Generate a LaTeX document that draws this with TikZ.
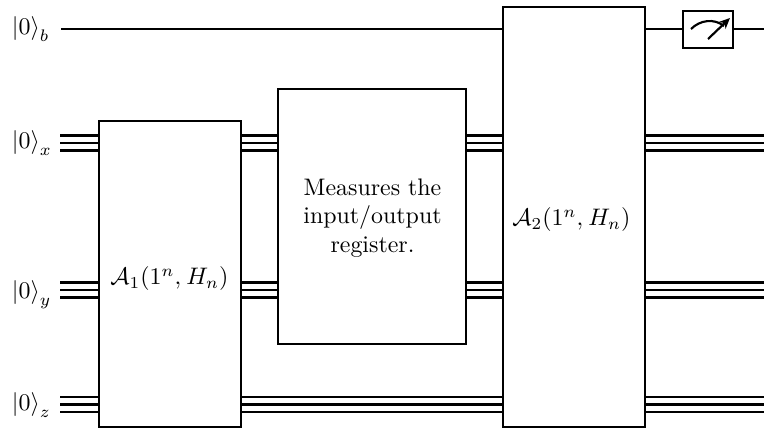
\documentclass[tikz,border=0pt]{standalone}
\usetikzlibrary{arrows.meta}
\begin{document}
\begin{tikzpicture}[x=0.4184pt,y=-0.4184pt,
  wire/.style={line width=0.9pt,black},
  gatebox/.style={draw,line width=0.9pt,fill=white,inner sep=0pt,align=center,anchor=north west},
  lab/.style={inner sep=0pt,anchor=base west}]
\useasboundingbox (0,0) rectangle (764,427);
% wire ends
\foreach \n/\y in {xa/135.5,xb/143,xc/150.5,ya/282.5,yb/290,yc/297.5,za/397,zb/404.5,zc/412}{
  \coordinate (L\n) at (60,\y);
  \coordinate (R\n) at (764,\y);
}
\coordinate (Lb) at (61,29);
\coordinate (Rb) at (764,29);
\foreach \n in {xa,xb,xc,ya,yb,yc,za,zb,zc}{ \draw[wire] (L\n) -- (R\n); }
\draw[wire] (Lb) -- (Rb);
\node[gatebox,minimum width=142*0.4184pt,minimum height=306*0.4184pt] (A1) at (98,120) {};
\node at (169.5,279) {$\mathcal{A}_1(1^n,\kern0.5pt H_n)$};
\node[gatebox,minimum width=188*0.4184pt,minimum height=255*0.4184pt] (M) at (277,88) {};
\node[align=center,inner sep=0pt] at (372.5,218) {Measures the\\input/output\\register.};
\node[gatebox,minimum width=142*0.4184pt,minimum height=420*0.4184pt] (A2) at (502,5.5) {};
\node at (571.5,220) {$\mathcal{A}_2(1^n,\kern0.5pt H_n)$};
\node[gatebox,minimum width=50*0.4184pt,minimum height=37*0.4184pt] (Mt) at (682,9.5) {};
\draw[line width=0.9pt] (691,29) .. controls (700,20) and (714,18) .. (724,26);
\draw[line width=0.9pt,-{Stealth[length=4.5pt,width=4pt]}] (708,39) -- (730,18);
\node[lab] (lb) at (11.5,34.5) {$\left|0\right\rangle_b$};
\node[lab] (lx) at (11.5,148.5) {$\left|0\right\rangle_x$};
\node[lab] (ly) at (11.5,298.5) {$\left|0\right\rangle_y$};
\node[lab] (lz) at (11.5,410.5) {$\left|0\right\rangle_z$};
\end{tikzpicture}
\end{document}
